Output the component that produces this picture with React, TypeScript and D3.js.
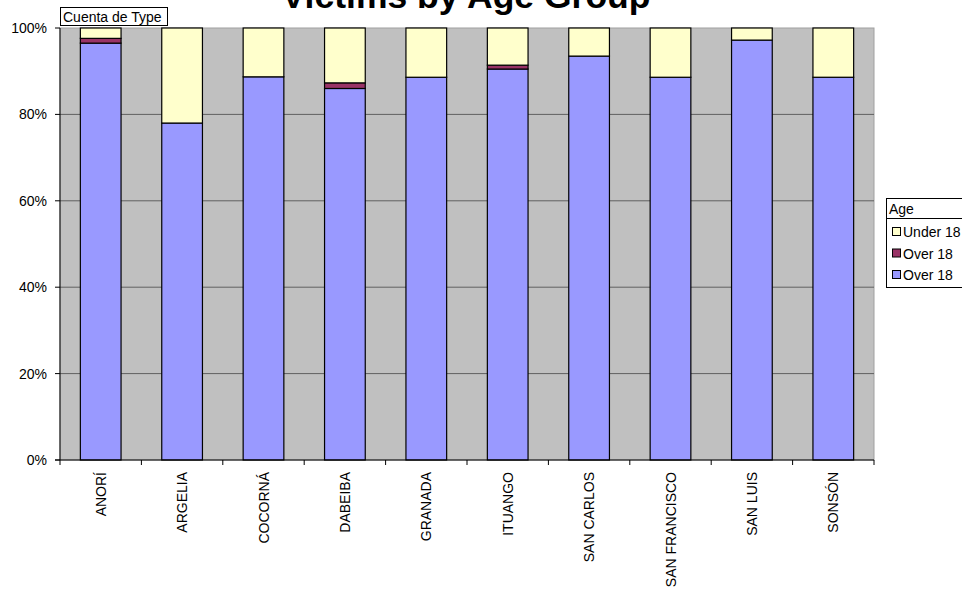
import React from "react";
import * as d3 from "d3";

const categories = ["ANORÍ", "ARGELIA", "COCORNÁ", "DABEIBA", "GRANADA", "ITUANGO", "SAN CARLOS", "SAN FRANCISCO", "SAN LUIS", "SONSÓN"];
const over18Blue = [96.5, 78.0, 88.7, 86.0, 88.6, 90.5, 93.5, 88.6, 97.2, 88.6];
const over18Maroon = [1.1, 0, 0, 1.3, 0, 0.9, 0, 0, 0, 0];
const under18 = [2.4, 22.0, 11.3, 12.7, 11.4, 8.6, 6.5, 11.4, 2.8, 11.4];
const yTicks = [0, 20, 40, 60, 80, 100];
const seriesKeys = ["blue", "maroon", "yellow"];
const legendItems = [
  { label: "Under 18", key: "yellow" },
  { label: "Over 18", key: "maroon" },
  { label: "Over 18", key: "blue" },
];

const colors: Record<string, string> = { blue: "#9999FF", maroon: "#993366", yellow: "#FFFFCC" };
const FONT = "'Liberation Sans', Arial, sans-serif";

export default function App() {
  const W = 962, H = 598;
  const left = 60, right = 874, top = 28, bottom = 460;
  const x = d3.scaleBand<string>().domain(categories).range([left, right]).paddingInner(0.5).paddingOuter(0.25);
  const xb = d3.scaleBand<string>().domain(categories).range([left, right]);
  const y = d3.scaleLinear().domain([0, 100]).range([bottom, top]);

  const rows = categories.map((c, i) => ({ cat: c, blue: over18Blue[i], maroon: over18Maroon[i], yellow: under18[i] }));
  const stacked = d3.stack<any>().keys(seriesKeys).offset(d3.stackOffsetExpand)(rows);

  return (
    <svg width={W} height={H} style={{ position: "absolute", left: 0, top: 0, background: "#fff" }} fontFamily={FONT}>
      <rect x={left} y={top} width={right - left} height={bottom - top} fill="#C0C0C0" stroke="#A0A0A0" strokeWidth={1} />
      {yTicks.filter(t => t > 0 && t < 100).map(t => (
        <line key={t} x1={left} x2={right} y1={y(t)} y2={y(t)} stroke="#606060" strokeWidth={1} />
      ))}
      {stacked.map(s => (
        <g key={s.key}>
          {s.map((d, i) => {
            const h = y(d[0] * 100) - y(d[1] * 100);
            if (h <= 0.01) return null;
            return (
              <rect key={i} x={x(categories[i])!} y={y(d[1] * 100)} width={x.bandwidth()} height={h}
                fill={colors[s.key as string]} stroke="#000" strokeWidth={1.2} />
            );
          })}
        </g>
      ))}
      {/* axes */}
      <line x1={left} x2={left} y1={top} y2={bottom} stroke="#000" strokeWidth={1} />
      <line x1={left - 5} x2={right} y1={bottom} y2={bottom} stroke="#000" strokeWidth={1} />
      {yTicks.map(t => (
        <g key={t}>
          <line x1={left - 5} x2={left} y1={y(t)} y2={y(t)} stroke="#000" />
          <text x={47} y={y(t) + 5} textAnchor="end" fontSize={14} fill="#000">{t}%</text>
        </g>
      ))}
      {categories.map((c, i) => (
        <line key={"t" + i} x1={xb(c)!} x2={xb(c)!} y1={bottom} y2={bottom + 5} stroke="#000" />
      ))}
      <line x1={right} x2={right} y1={bottom} y2={bottom + 5} stroke="#000" />
      {categories.map(c => {
        const cx = xb(c)! + xb.bandwidth() / 2 + 5;
        return (
          <text key={c} transform={`translate(${cx},472) rotate(-90)`} textAnchor="end" fontSize={14} fill="#000">{c}</text>
        );
      })}
      {/* title */}
      <text x={466} y={8} textAnchor="middle" fontSize={35.5} fontWeight="bold" fill="#000">Victims by Age Group</text>
      {/* field button */}
      <rect x={60.5} y={7.5} width={107} height={18} fill="#fff" stroke="#000" />
      <text x={63} y={22} fontSize={14} fill="#000">Cuenta de Type</text>
      {/* legend */}
      <rect x={886.5} y={198.5} width={90} height={89} fill="#fff" stroke="#000" />
      <line x1={886.5} x2={962} y1={218.5} y2={218.5} stroke="#000" />
      <text x={889} y={214} fontSize={14} fill="#000">Age</text>
      {legendItems.map((it, i) => {
        const cy = 232 + i * 21.5;
        return (
          <g key={i}>
            <rect x={892.5} y={cy - 4.5} width={8} height={8} fill={colors[it.key]} stroke="#000" />
            <text x={903} y={cy + 5} fontSize={14} fill="#000">{it.label}</text>
          </g>
        );
      })}
    </svg>
  );
}
